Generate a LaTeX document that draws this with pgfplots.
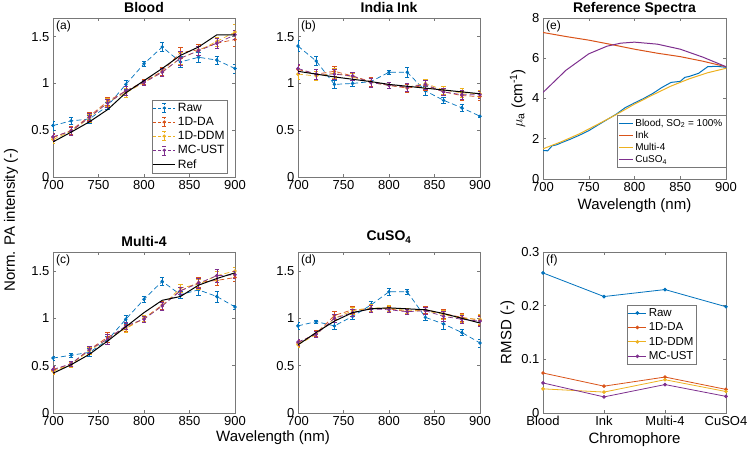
\documentclass[border=0pt]{standalone}
\usepackage{fontspec}
\setmainfont{Liberation Sans}
\usepackage{pgfplots}
\pgfplotsset{compat=1.18}
\usepackage{pgfplotstable}
\definecolor{mB}{RGB}{0,114,189}
\definecolor{mO}{RGB}{217,83,25}
\definecolor{mY}{RGB}{237,177,32}
\definecolor{mP}{RGB}{126,47,142}
\definecolor{axg}{RGB}{120,120,120}

\pgfplotstableread{
x raw rawe da dae ddm ddme mc mce ref
700 0.55 0.05 0.42 0.04 0.40 0.04 0.43 0.04 0.375
720 0.60 0.04 0.50 0.04 0.49 0.04 0.49 0.04 0.48
740 0.62 0.04 0.65 0.04 0.63 0.04 0.64 0.04 0.59
760 0.76 0.04 0.81 0.04 0.80 0.04 0.79 0.04 0.72
780 0.99 0.05 0.92 0.05 0.90 0.05 0.92 0.05 0.90
800 1.21 0.03 1.02 0.03 1.01 0.03 1.01 0.03 1.03
820 1.39 0.05 1.13 0.04 1.12 0.04 1.12 0.04 1.16
840 1.23 0.06 1.33 0.06 1.27 0.06 1.27 0.07 1.30
860 1.28 0.05 1.36 0.06 1.35 0.05 1.35 0.05 1.39
880 1.25 0.04 1.43 0.05 1.45 0.05 1.43 0.05 1.52
900 1.16 0.05 1.47 0.07 1.55 0.08 1.52 0.05 1.52
}\tabA
\pgfplotstableread{
x raw rawe da dae ddm ddme mc mce ref
700 1.40 0.06 1.15 0.05 1.10 0.05 1.16 0.05 1.13
720 1.24 0.05 1.10 0.05 1.08 0.05 1.10 0.05 1.10
740 0.99 0.04 1.13 0.05 1.11 0.05 1.10 0.05 1.07
760 1.00 0.03 1.08 0.04 1.07 0.04 1.08 0.04 1.045
780 1.02 0.05 1.02 0.05 1.01 0.05 1.01 0.05 1.02
800 1.12 0.02 0.98 0.03 0.98 0.03 0.98 0.03 0.99
820 1.12 0.05 0.95 0.04 0.96 0.04 0.96 0.04 0.97
840 0.92 0.05 0.98 0.05 1.00 0.05 0.99 0.05 0.95
860 0.82 0.03 0.91 0.04 0.93 0.04 0.91 0.04 0.93
880 0.74 0.04 0.87 0.05 0.90 0.05 0.88 0.05 0.91
900 0.65 0.01 0.86 0.04 0.89 0.04 0.88 0.04 0.89
}\tabB
\pgfplotstableread{
x raw rawe da dae ddm ddme mc mce ref
700 0.58 0.02 0.45 0.03 0.44 0.03 0.46 0.03 0.42
720 0.61 0.02 0.52 0.03 0.51 0.03 0.52 0.03 0.51
740 0.64 0.04 0.67 0.04 0.66 0.04 0.67 0.04 0.62
760 0.77 0.04 0.80 0.05 0.78 0.05 0.78 0.05 0.76
780 0.99 0.04 0.90 0.04 0.89 0.04 0.92 0.04 0.91
800 1.20 0.03 1.00 0.03 1.00 0.03 0.99 0.03 1.06
820 1.39 0.04 1.14 0.04 1.13 0.04 1.13 0.04 1.19
840 1.25 0.04 1.29 0.04 1.32 0.04 1.29 0.04 1.23
860 1.30 0.06 1.38 0.05 1.36 0.05 1.37 0.05 1.35
880 1.23 0.06 1.40 0.05 1.45 0.05 1.45 0.07 1.42
900 1.12 0.02 1.43 0.04 1.50 0.04 1.46 0.04 1.48
}\tabC
\pgfplotstableread{
x raw rawe da dae ddm ddme mc mce ref
700 0.92 0.04 0.74 0.03 0.72 0.03 0.75 0.03 0.72
720 0.965 0.02 0.84 0.03 0.83 0.03 0.83 0.03 0.85
740 0.92 0.04 1.03 0.04 1.00 0.04 1.00 0.04 0.97
760 1.02 0.03 1.09 0.04 1.08 0.04 1.06 0.04 1.06
780 1.14 0.04 1.10 0.04 1.11 0.04 1.10 0.04 1.10
800 1.28 0.04 1.10 0.03 1.11 0.03 1.09 0.03 1.11
820 1.28 0.03 1.07 0.03 1.08 0.03 1.07 0.03 1.10
840 1.01 0.03 1.09 0.04 1.08 0.04 1.08 0.04 1.09
860 0.94 0.05 1.05 0.05 1.04 0.05 1.02 0.05 1.05
880 0.85 0.03 1.01 0.04 1.00 0.04 0.99 0.04 1.00
900 0.74 0.04 0.98 0.05 0.99 0.05 0.97 0.05 0.95
}\tabD

\tikzset{plab/.style={anchor=north west, font=\fontsize{12}{14}\selectfont, inner sep=3pt}}
\newcommand{\ebleg}[1]{%
  \draw[#1, line width=0.7pt, dash pattern=on 3pt off 2pt] (0pt,0pt) -- (22pt,0pt);
  \draw[#1, line width=0.6pt] (11pt,-4.5pt) -- (11pt,4.5pt) (9pt,-4.5pt) -- (13pt,-4.5pt) (9pt,4.5pt) -- (13pt,4.5pt);
  \fill[#1] (11pt,0pt) circle (1.4pt);}
\newcommand{\lnleg}[1]{\draw[#1, line width=1pt] (0pt,0pt) -- (14pt,0pt);}
\newcommand{\mkleg}[1]{\draw[#1, line width=0.8pt] (0pt,0pt) -- (18pt,0pt); \fill[#1] (9pt,0pt) circle (1.4pt);}
\pgfplotsset{
  base/.style={scale only axis, anchor=south west, clip mode=individual,
    axis line style={axg, line width=0.5pt}, tick style={axg, line width=0.5pt},
    tick align=inside, major tick length=3pt,
    ticklabel style={font=\fontsize{13}{15}\selectfont},
    /pgf/number format/assume math mode=true,
    title style={font=\bfseries\fontsize{14}{16}\selectfont, anchor=base, at={(0.5,1)}, yshift=-1pt},
    label style={font=\fontsize{15}{17}\selectfont},
    legend cell align=left},
  pa/.style={base, width=182pt, xmin=700, xmax=900, ymin=0, ymax=1.7,
    xtick={700,750,...,900}, ytick={0,0.5,1,1.5}},
  eb/.style={dash pattern=on 5pt off 3pt, mark=*, mark size=1.4pt, mark options={solid}, line width=0.7pt,
    error bars/.cd, y dir=both, y explicit, error bar style={solid, line width=0.6pt},
    error mark options={rotate=90, mark size=2.2pt, solid}},
  reflin/.style={black, line width=1pt, mark=none},
}
\newcommand{\fivese}[1]{%
  \addplot[mB, legend image code/.code={\ebleg{mB}}, eb] table[x=x, y=raw, y error=rawe] {#1};
  \addplot[mO, legend image code/.code={\ebleg{mO}}, eb] table[x=x, y=da, y error=dae] {#1};
  \addplot[mY, legend image code/.code={\ebleg{mY}}, eb] table[x=x, y=ddm, y error=ddme] {#1};
  \addplot[mP, legend image code/.code={\ebleg{mP}}, eb] table[x=x, y=mc, y error=mce] {#1};
  \addplot[reflin, legend image code/.code={\draw[black, line width=1pt] (0pt,0pt) -- (22pt,0pt);}] table[x=x, y=ref] {#1};
}

\begin{document}
\begin{tikzpicture}[x=1pt,y=1pt]
\path[use as bounding box] (0,0) rectangle (750,458);

% (a)
\begin{axis}[pa, at={(53pt,281pt)}, height=159pt, title={Blood},
  legend style={at={(0.96,0.025)}, anchor=south east, draw=axg, font=\fontsize{12}{13}\selectfont, inner sep=1pt, row sep=0.3pt}]
\fivese{\tabA}
\legend{Raw,1D-DA,1D-DDM,MC-UST,Ref}
\node[plab] at (rel axis cs:0,1) {(a)};
\end{axis}

% (b)
\begin{axis}[pa, at={(298pt,281pt)}, height=159pt, title={India Ink}]
\fivese{\tabB}
\node[plab] at (rel axis cs:0,1) {(b)};
\end{axis}

% (c)
\begin{axis}[pa, at={(53pt,45pt)}, height=161pt, title={Multi-4}]
\fivese{\tabC}
\node[plab] at (rel axis cs:0,1) {(c)};
\end{axis}

% (d)
\begin{axis}[pa, at={(298pt,45pt)}, height=161pt, title={CuSO\textsubscript{4}}, title style={yshift=6pt}]
\fivese{\tabD}
\node[plab] at (rel axis cs:0,1) {(d)};
\end{axis}

% (e)
\begin{axis}[base, at={(543pt,279pt)}, width=183pt, height=161pt, title={Reference Spectra},
  xmin=700, xmax=900, ymin=0, ymax=8, xtick={700,750,...,900}, ytick={0,2,...,8},
  xlabel={Wavelength (nm)}, ylabel={$\mu$\textsubscript{a} (cm\textsuperscript{-1})},
  legend style={at={(1,0.07)}, anchor=south east, draw=axg, fill=white, font=\fontsize{10}{11}\selectfont, inner sep=1.5pt, row sep=-0.5pt}]
\addplot[mB, line width=1pt, legend image code/.code={\lnleg{mB}}] coordinates {(700,1.42)(705,1.40)(710,1.65)(715,1.70)(720,1.80)(730,1.98)(740,2.18)(750,2.40)(760,2.68)(770,2.95)(780,3.22)(790,3.55)(800,3.78)(810,4.0)(820,4.25)(830,4.55)(840,4.80)(850,4.85)(855,5.05)(860,5.10)(870,5.25)(880,5.58)(890,5.60)(900,5.55)};
\addplot[mO, line width=1pt, legend image code/.code={\lnleg{mO}}] coordinates {(700,7.28)(725,7.08)(750,6.9)(775,6.68)(800,6.45)(825,6.25)(850,6.08)(875,5.85)(900,5.58)};
\addplot[mY, line width=1pt, legend image code/.code={\lnleg{mY}}] coordinates {(700,1.50)(720,1.85)(740,2.25)(760,2.72)(780,3.20)(800,3.72)(820,4.18)(840,4.62)(860,4.98)(880,5.28)(900,5.50)};
\addplot[mP, line width=1pt, legend image code/.code={\lnleg{mP}}] coordinates {(700,4.30)(725,5.4)(750,6.22)(770,6.6)(785,6.75)(800,6.8)(825,6.7)(850,6.45)(875,6.05)(900,5.58)};
\legend{{Blood, SO\textsubscript{2} = 100\%},Ink,Multi-4,CuSO\textsubscript{4}}
\node[plab] at (rel axis cs:0,1) {(e)};
\end{axis}

% (f)
\begin{axis}[base, at={(543pt,45pt)}, width=183pt, height=161pt,
  xmin=1, xmax=4, xtick={1,2,3,4}, xticklabels={Blood,Ink,Multi-4,CuSO4},
  ymin=0, ymax=0.3, ytick={0,0.1,0.2,0.3},
  xlabel={Chromophore}, ylabel={RMSD (-)},
  legend style={at={(0.84,0.67)}, anchor=north east, draw=axg, font=\fontsize{11.5}{13}\selectfont, inner sep=1pt, row sep=1pt}]
\addplot[mB, line width=0.8pt, mark=*, mark size=1.4pt, legend image code/.code={\mkleg{mB}}] coordinates {(1,0.261)(2,0.217)(3,0.230)(4,0.198)};
\addplot[mO, line width=0.8pt, mark=*, mark size=1.4pt, legend image code/.code={\mkleg{mO}}] coordinates {(1,0.0745)(2,0.050)(3,0.067)(4,0.044)};
\addplot[mY, line width=0.8pt, mark=*, mark size=1.4pt, legend image code/.code={\mkleg{mY}}] coordinates {(1,0.045)(2,0.039)(3,0.062)(4,0.040)};
\addplot[mP, line width=0.8pt, mark=*, mark size=1.4pt, legend image code/.code={\mkleg{mP}}] coordinates {(1,0.056)(2,0.030)(3,0.053)(4,0.031)};
\legend{Raw,1D-DA,1D-DDM,MC-UST}
\node[plab] at (rel axis cs:0,1) {(f)};
\end{axis}

\node[rotate=90, font=\fontsize{15}{17}\selectfont] at (11,238) {Norm. PA intensity (-)};
\node[font=\fontsize{15}{17}\selectfont] at (273,20) {Wavelength (nm)};
\end{tikzpicture}
\end{document}
